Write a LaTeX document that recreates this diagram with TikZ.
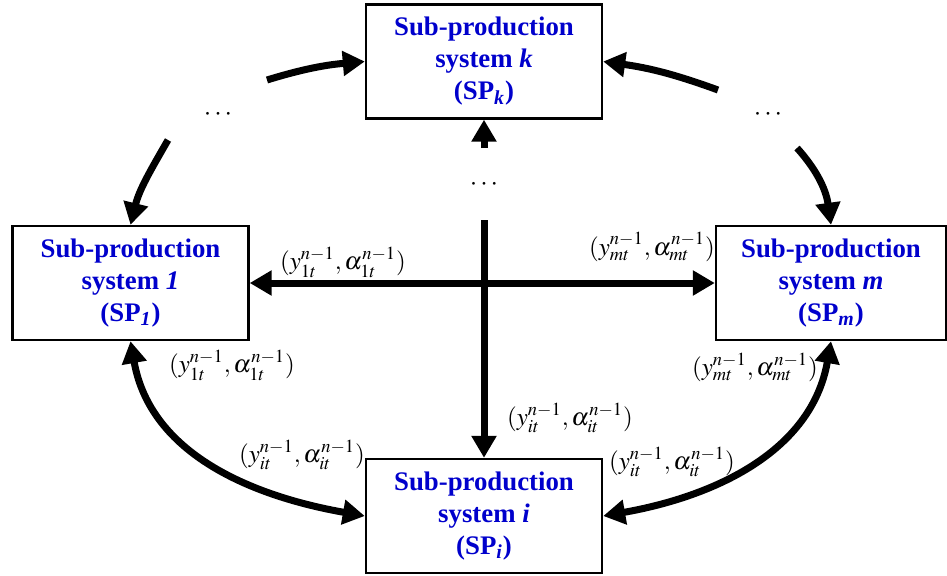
\documentclass[tikz,border=0pt]{standalone}
\usepackage{mathptmx}
\usepackage[no-math]{fontspec}
\setmainfont{Liberation Serif}
\usepackage{xcolor}
\usetikzlibrary{arrows.meta}
\definecolor{spblue}{HTML}{0000CC}

\begin{document}
\begin{tikzpicture}[x=0.5pt, y=0.5pt,
    spbox/.style={rectangle, draw, line width=1.2pt, fill=white,
                  minimum width=118pt, minimum height=57pt,
                  inner sep=0pt, align=center, text=spblue,
                  font=\fontsize{13.4}{16}\selectfont\bfseries},
    flow/.style={line width=3.5pt, -{Triangle[length=11pt,width=12pt]}},
    flows/.style={line width=3.5pt,
                  {Triangle[length=11pt,width=12pt]}-{Triangle[length=11pt,width=12pt]}},
    lbl/.style={font=\fontsize{12.5}{15}\selectfont, inner sep=1pt},
    ellip/.style={font=\fontsize{13.4}{16}\selectfont}
]
\useasboundingbox (0,0) rectangle (947,575);

% sub-production systems
\node[spbox] (sk) at (484,513.5) {Sub-production\\system \textit{k}\\(SP\textsubscript{\textit{k}})};
\node[spbox] (s1) at (130.5,292) {Sub-production\\system \textit{1}\\(SP\textsubscript{\textit{1}})};
\node[spbox, minimum width=115pt] (sm) at (831,292) {Sub-production\\system \textit{m}\\(SP\textsubscript{\textit{m}})};
\node[spbox] (si) at (484,59) {Sub-production\\system \textit{i}\\(SP\textsubscript{\textit{i}})};

% dots
\node[ellip] (dl) at (218,460) {$\cdots$};
\node[ellip] (dr) at (768,460) {$\cdots$};
\node[ellip] (dc) at (484,390) {$\cdots$};

% free ends
\coordinate (tl) at (267,495);
\coordinate (lt) at (168,435);
\coordinate (tr) at (718,485);
\coordinate (rt) at (797,427);
\coordinate (vt) at (484,355);
\coordinate (vb) at (484,427);

% connectors
\draw[flow] (tl) to[out=17, in=185] (sk.west);
\draw[flow] (lt) to[out=240, in=76] (s1.north);
\draw[flow] (tr) to[out=160, in=-8] (sk.east);
\draw[flow] (rt) to[out=-48, in=98] (sm.north);
\draw[flow] (vb) -- (sk.south);
\draw[flow] (vt) -- (si.north);
\draw[flows] (s1.east) -- (sm.west);
\draw[flows] (s1.south) to[out=-80, in=170] (si.west);
\draw[flows] (sm.south) to[out=-100, in=10] (si.east);

% labels
\node[lbl] (l1) at (343,313) {$(y_{1t}^{n-1},\alpha_{1t}^{n-1})$};
\node[lbl] (l2) at (652,328) {$(y_{mt}^{n-1},\alpha_{mt}^{n-1})$};
\node[lbl] (l3) at (232,210) {$(y_{1t}^{n-1},\alpha_{1t}^{n-1})$};
\node[lbl] (l4) at (755,208) {$(y_{mt}^{n-1},\alpha_{mt}^{n-1})$};
\node[lbl] (l5) at (570,157) {$(y_{it}^{n-1},\alpha_{it}^{n-1})$};
\node[lbl] (l6) at (302,120) {$(y_{it}^{n-1},\alpha_{it}^{n-1})$};
\node[lbl] (l7) at (672,113) {$(y_{it}^{n-1},\alpha_{it}^{n-1})$};
\end{tikzpicture}
\end{document}
